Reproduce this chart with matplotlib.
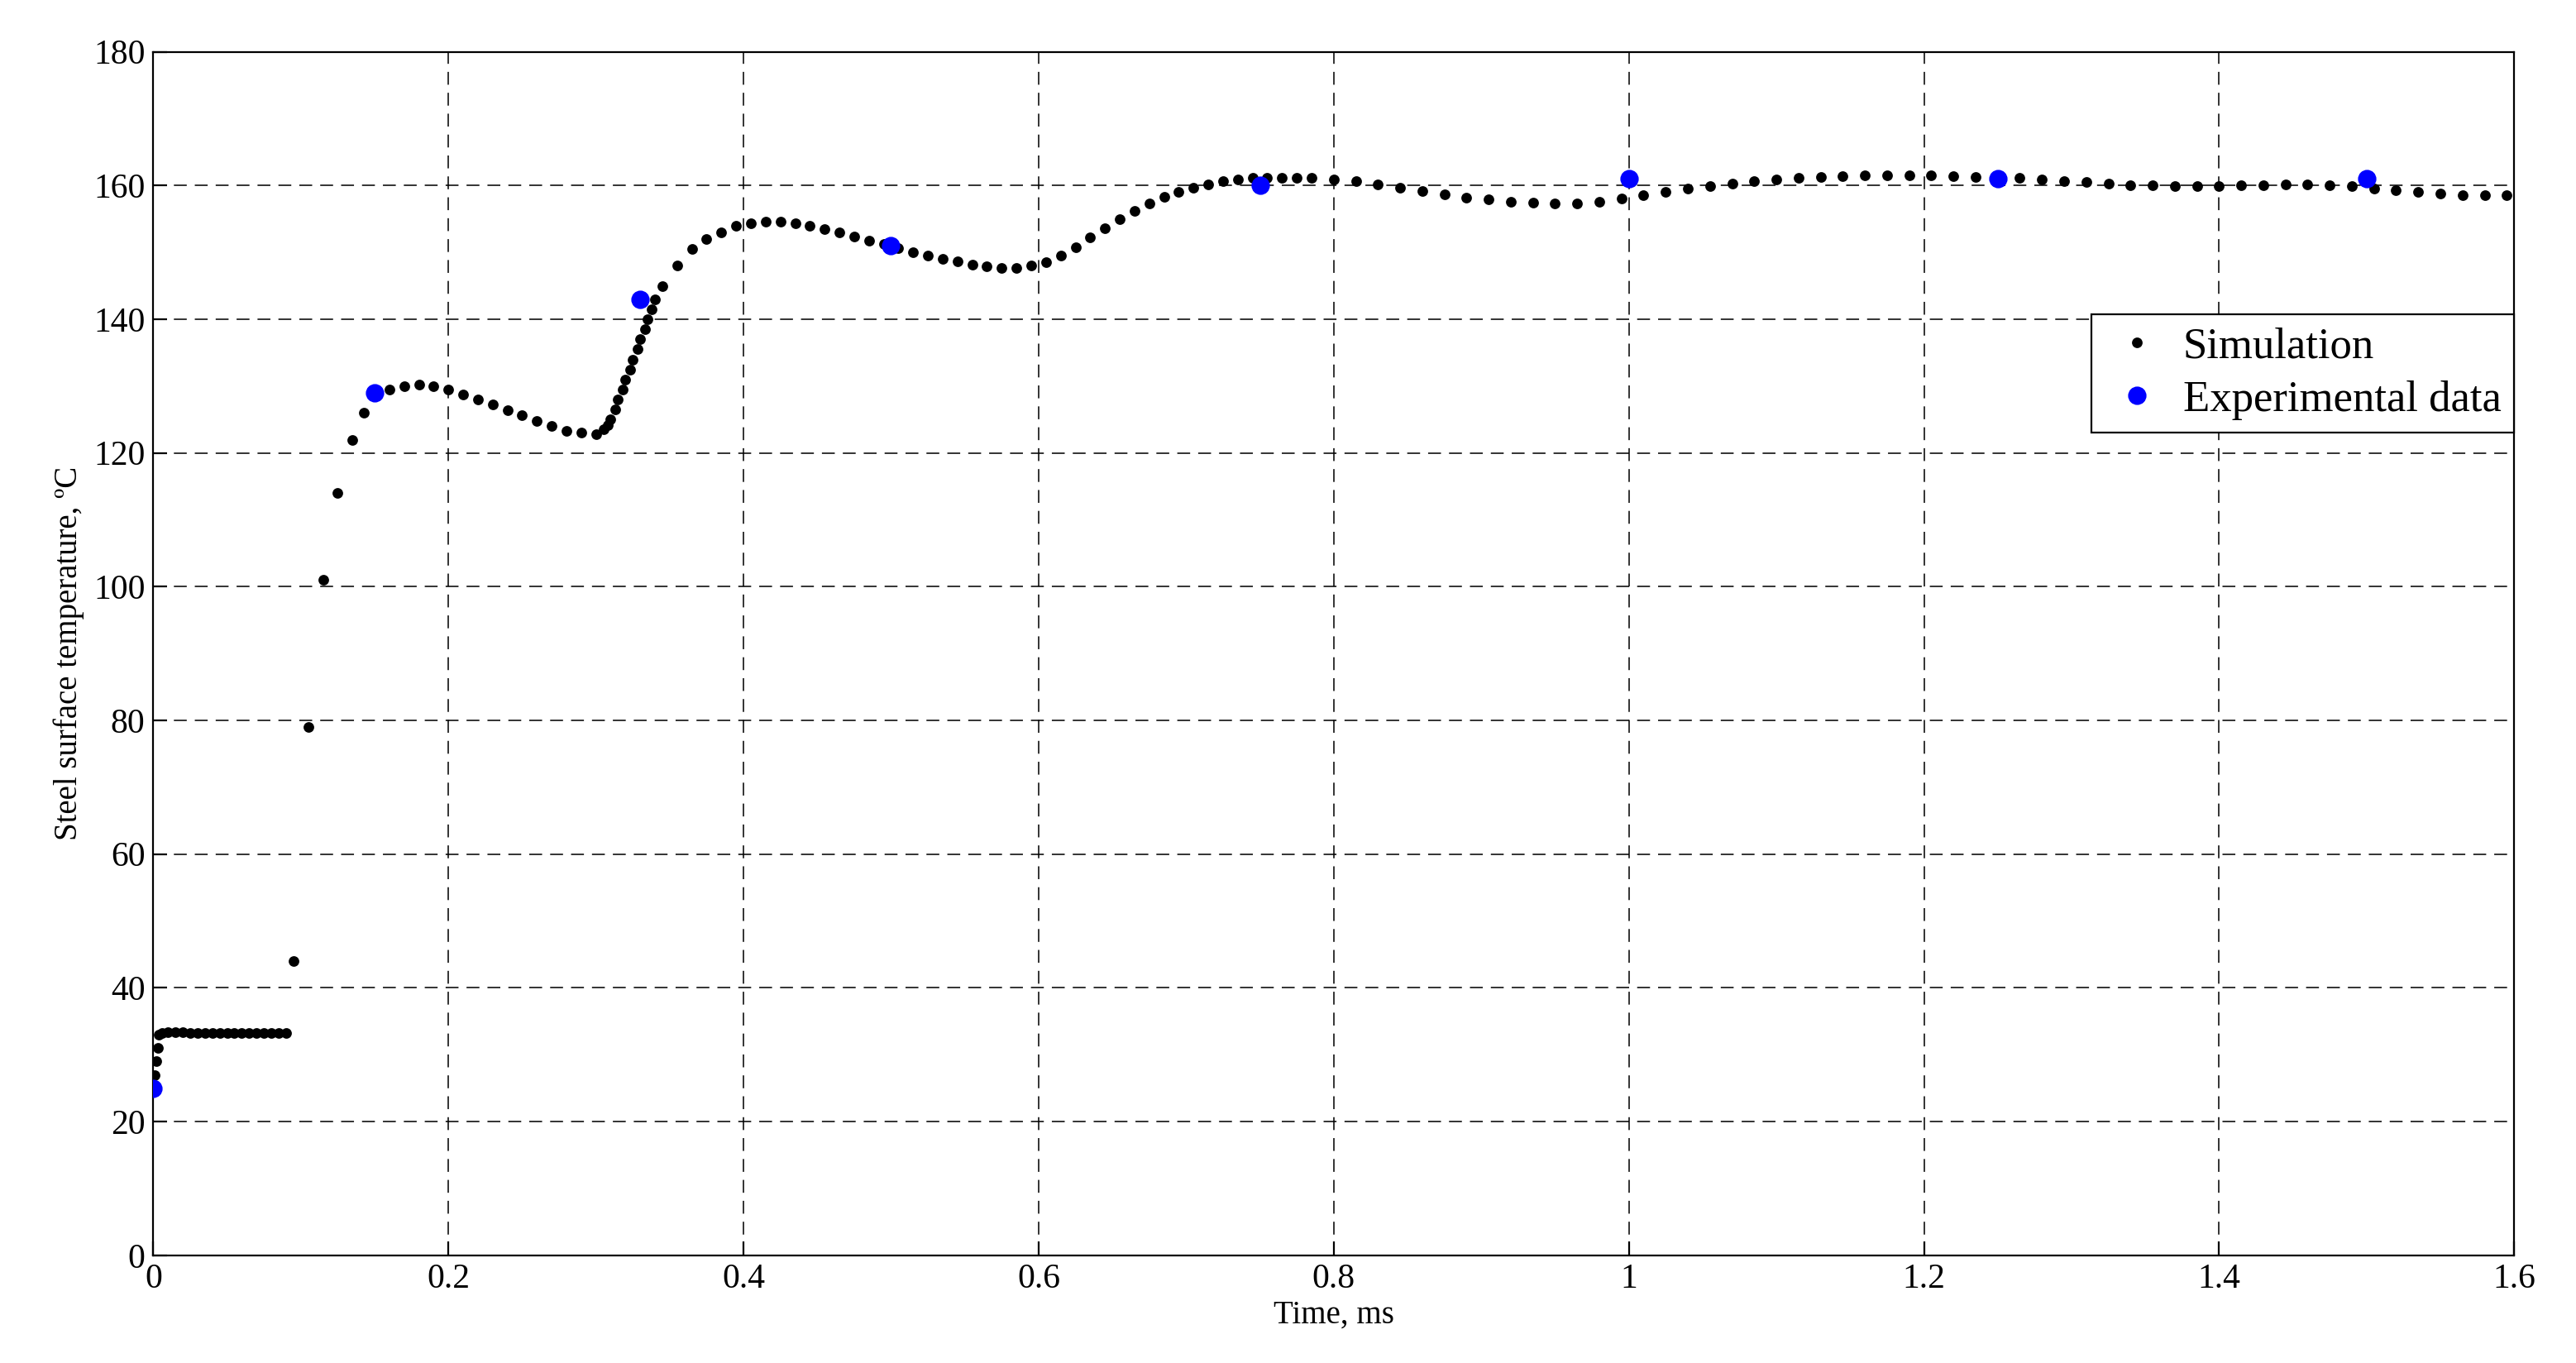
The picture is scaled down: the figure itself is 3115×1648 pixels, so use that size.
import matplotlib
matplotlib.use("Agg")
import matplotlib.pyplot as plt

sim_t = [0,0.001,0.002,0.003,0.004,0.006,0.01,0.015,0.02,0.025,0.03,0.035,0.04,0.045,0.05,0.055,0.06,0.065,0.07,0.075,0.08,0.085,0.09,
 0.095,0.105,0.115,0.125,0.135,0.143,0.15,0.16,0.17,0.18,0.19,0.2,0.21,0.22,0.23,0.24,0.25,0.26,0.27,0.28,0.29,0.30,
 0.305,0.308,0.31,0.313,0.315,0.318,0.32,0.323,0.325,0.328,0.33,0.333,0.335,0.338,0.34,0.345,0.355,0.365,0.375,0.385,0.395,
 0.405,0.415,0.425,0.435,0.445,0.455,0.465,0.475,0.485,0.495,0.505,0.515,0.525,0.535,0.545,0.555,0.565,0.575,0.585,0.595,
 0.605,0.615,0.625,0.635,0.645,0.655,0.665,0.675,0.685,0.695,0.705,0.715,0.725,0.735,0.745,0.755,0.765,0.775,0.785,
 0.8,0.815,0.83,0.845,0.86,0.875,0.89,0.905,0.92,0.935,0.95,0.965,0.98,0.995,1.01,1.025,1.04,1.055,1.07,1.085,1.10,
 1.115,1.13,1.145,1.16,1.175,1.19,1.205,1.22,1.235,1.25,1.265,1.28,1.295,1.31,1.325,1.34,1.355,1.37,1.385,1.40,1.415,
 1.43,1.445,1.46,1.475,1.49,1.505,1.52,1.535,1.55,1.565,1.58,1.595]
sim_y = [25,27,29,31,33,33.3,33.4,33.4,33.4,33.3,33.3,33.3,33.3,33.3,33.2,33.2,33.2,33.2,33.2,33.2,33.2,33.2,33.2,
 44,79,101,114,122,126,129,129.5,130,130.2,130,129.5,128.8,128,127.2,126.4,125.6,124.8,124,123.3,123,122.8,
 123.5,124.2,125,126.5,128,129.5,131,132.5,134,135.5,137,138.5,140,141.5,143,145,148,150.5,152,153,154,
 154.4,154.6,154.6,154.4,154,153.5,153,152.4,151.8,151.2,150.6,150,149.5,149,148.6,148.2,147.9,147.7,147.7,148,
 148.5,149.5,150.8,152.2,153.6,155,156.2,157.3,158.3,159.1,159.7,160.2,160.6,160.9,161.1,161.2,161.2,161.2,161.1,
 160.9,160.6,160.2,159.7,159.2,158.7,158.2,157.9,157.6,157.4,157.3,157.3,157.6,158,158.5,159,159.5,159.9,160.3,160.6,160.9,
 161.1,161.3,161.4,161.5,161.5,161.5,161.5,161.4,161.3,161.2,161.1,160.9,160.7,160.5,160.3,160.1,160.0,159.9,159.9,159.9,160.0,
 160.1,160.2,160.2,160.1,159.9,159.6,159.3,159.0,158.8,158.6,158.5,158.5]
exp_t = [0, 0.15, 0.33, 0.5, 0.75, 1.0, 1.25, 1.5]
exp_y = [25, 129, 143, 151, 160, 161, 161, 161]

xticks = [0, 0.2, 0.4, 0.6, 0.8, 1, 1.2, 1.4, 1.6]
xticklabels = ["0", "0.2", "0.4", "0.6", "0.8", "1", "1.2", "1.4", "1.6"]
yticks = list(range(0, 181, 20))

plt.rcParams['font.family'] = ['Liberation Serif', 'DejaVu Serif']
fig = plt.figure(figsize=(15.575, 8.24), dpi=200)
ax = fig.add_axes([0.0595, 0.079, 0.9165, 0.883])
ax.plot(sim_t, sim_y, 'o', color='black', ms=3.6, label='Simulation', zorder=3)
ax.plot(exp_t, exp_y, 'o', color='#0000ff', ms=7, label='Experimental data', zorder=4)
ax.set_xlim(0, 1.6)
ax.set_ylim(0, 180)
ax.set_xticks(xticks)
ax.set_xticklabels(xticklabels)
ax.set_yticks(yticks)
ax.tick_params(direction='in', labelsize=15, length=6)
ax.grid(True, color='black', linestyle=(0, (8, 5)), linewidth=0.7, alpha=0.8)
ax.set_xlabel('Time, ms', fontsize=14, labelpad=2)
ax.set_ylabel('Steel surface temperature, \u00baC', fontsize=14)
leg = ax.legend(loc='upper right', bbox_to_anchor=(1.0, 0.782), fontsize=19,
                fancybox=False, framealpha=1, edgecolor='black', borderaxespad=0,
                handletextpad=0.3, handlelength=1.5, borderpad=0.3, labelspacing=0.3)
leg.get_frame().set_linewidth(0.8)
fig.savefig('out.png', dpi=200)
